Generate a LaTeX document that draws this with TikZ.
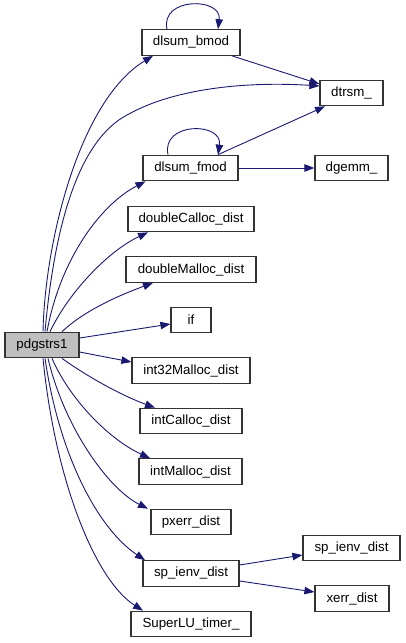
\documentclass[tikz,border=0pt]{standalone}
\usepackage{fontspec}
\setmainfont{Liberation Sans}
\usetikzlibrary{arrows.meta}
\definecolor{edgeblue}{RGB}{25,25,112}
\begin{document}
\begin{tikzpicture}[x=1pt,y=-1pt,
  box/.style={draw=black!80,line width=1.2pt,fill=white,minimum height=25.5pt,inner sep=0pt,font=\fontsize{13.3}{15}\selectfont},
  root/.style={box,fill=black!25},
  edge/.style={draw=edgeblue,line width=0.9pt,-{Triangle[length=10pt,width=7.5pt,fill=edgeblue]}},
]
\useasboundingbox (0,0) rectangle (405,643);
\node[box,minimum width=98pt] (bmod) at (191,42.5) {dlsum\_bmod};
\node[box,minimum width=63pt] (dtrsm) at (351.5,93) {dtrsm\_};
\node[box,minimum width=95pt] (fmod) at (190.5,168) {dlsum\_fmod};
\node[box,minimum width=73pt] (dgemm) at (351.5,168) {dgemm\_};
\node[box,minimum width=126pt] (dcal) at (191,219) {doubleCalloc\_dist};
\node[box,minimum width=130pt] (dmal) at (191,269.5) {doubleMalloc\_dist};
\node[box,minimum width=40pt] (if) at (191,320) {if};
\node[root,minimum width=74pt] (pd) at (42,345) {pdgstrs1};
\node[box,minimum width=118pt] (i32) at (191,370.5) {int32Malloc\_dist};
\node[box,minimum width=102pt] (ical) at (191,421) {intCalloc\_dist};
\node[box,minimum width=103pt] (imal) at (190.5,471.5) {intMalloc\_dist};
\node[box,minimum width=80pt] (pxerr) at (191,522) {pxerr\_dist};
\node[box,minimum width=96pt] (spm) at (191,573.5) {sp\_ienv\_dist};
\node[box,minimum width=97pt] (spr) at (351.5,548) {sp\_ienv\_dist};
\node[box,minimum width=74pt] (xerr) at (352,598.5) {xerr\_dist};
\node[box,minimum width=120pt] (timer) at (191,624) {SuperLU\_timer\_};

% from pdgstrs1 top
\draw[edge] ([xshift=1pt]pd.north) .. controls (45,240) and (80,100) .. ([xshift=-38pt]bmod.south);
\draw[edge] ([xshift=3pt]pd.north) .. controls (55,220) and (80,140) .. (127,115) .. controls (180,85) and (260,82) .. ([yshift=7pt]dtrsm.west);
\draw[edge] ([xshift=5pt]pd.north) .. controls (60,260) and (100,205) .. ([xshift=-45pt]fmod.south);
\draw[edge] ([xshift=8pt]pd.north) .. controls (70,290) and (110,250) .. ([xshift=-43pt]dcal.south);
\draw[edge] ([xshift=20pt]pd.north) .. controls (85,310) and (120,295) .. ([xshift=-38pt]dmal.south);
\draw[edge] ([yshift=7pt]pd.east) -- ([yshift=-4pt]if.west);
\draw[edge] ([yshift=-7pt]pd.east) -- ([yshift=8.5pt]i32.west);
% from pdgstrs1 bottom
\draw[edge] ([xshift=20pt]pd.south) .. controls (85,375) and (120,395) .. ([xshift=-36pt]ical.north);
\draw[edge] ([xshift=10pt]pd.south) .. controls (70,400) and (110,440) .. ([xshift=-40.5pt]imal.north);
\draw[edge] ([xshift=6pt]pd.south) .. controls (65,430) and (110,490) .. ([xshift=-43pt]pxerr.north);
\draw[edge] ([xshift=3pt]pd.south) .. controls (60,460) and (100,530) .. ([xshift=-46pt]spm.north);
\draw[edge] ([xshift=1pt]pd.south) .. controls (55,480) and (95,580) .. ([xshift=-48pt]timer.north);
% others
\draw[edge] ([xshift=41pt]bmod.south) -- ([yshift=9pt]dtrsm.west);
\draw[edge] ([xshift=27.5pt]fmod.north) -- ([xshift=-26.5pt]dtrsm.south);
\draw[edge] (fmod.east) -- (dgemm.west);
\draw[edge] ([xshift=-24pt]bmod.north) .. controls (160,-3) and (222,-3) .. ([xshift=27pt]bmod.north);
\draw[edge] ([xshift=-22.5pt]fmod.north) .. controls (161,121.7) and (223,121.7) .. ([xshift=27.5pt]fmod.north);
\draw[edge] ([yshift=8.5pt]spm.east) -- ([yshift=-7pt]spr.west);
\draw[edge] ([yshift=-7.5pt]spm.east) -- ([yshift=6.5pt]xerr.west);
\end{tikzpicture}
\end{document}
